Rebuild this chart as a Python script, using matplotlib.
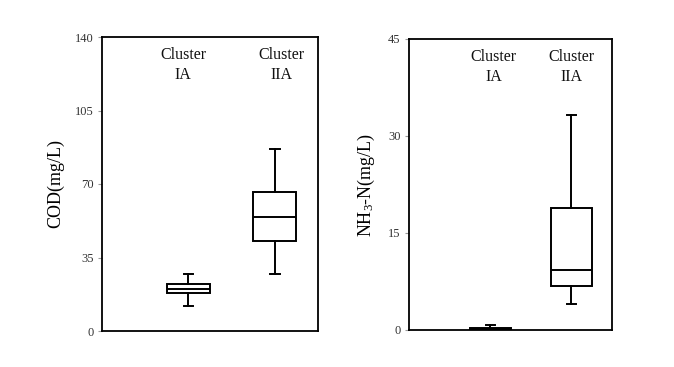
import matplotlib
matplotlib.use("Agg")
import matplotlib.pyplot as plt

plt.rcParams['font.family'] = ['Liberation Serif', 'DejaVu Serif']
plt.rcParams['mathtext.fontset'] = 'custom'
plt.rcParams['mathtext.rm'] = 'Liberation Serif'
plt.rcParams['mathtext.it'] = 'Liberation Serif:italic'

clusters = ["Cluster\nIA", "Cluster\nIIA"]

# box stats: whislo, q1, med, q3, whishi
cod_ia = [11.9, 18.2, 19.8, 22.2, 27.1]
cod_iia = [27.1, 42.9, 54.3, 66.0, 86.7]
nh3_ia = [0.0, 0.05, 0.2, 0.35, 0.77]
nh3_iia = [3.97, 6.85, 9.3, 18.9, 33.2]

cod_ticks = [0, 35, 70, 105, 140]
nh3_ticks = [0, 15, 30, 45]

def stats(vals, label):
    lo, q1, med, q3, hi = vals
    return dict(whislo=lo, q1=q1, med=med, q3=q3, whishi=hi, fliers=[], label=label)

fig = plt.figure(figsize=(6.74, 3.67), dpi=100)
ax1 = fig.add_axes([102/674, 1-331/367, 216/674, 294/367])
ax2 = fig.add_axes([409/674, 1-330/367, 203/674, 291/367])

lw = 1.4
props = dict(
    boxprops=dict(edgecolor='black', linewidth=lw, facecolor='white'),
    medianprops=dict(color='black', linewidth=lw),
    whiskerprops=dict(color='black', linewidth=lw),
    capprops=dict(color='black', linewidth=lw),
)

label_offsets = {0: [-0.06, 0.08], 1: [0.04, 0.0]}

for k, (ax, data, ticks, ylabel) in enumerate([
    (ax1, [cod_ia, cod_iia], cod_ticks, "COD(mg/L)"),
    (ax2, [nh3_ia, nh3_iia], nh3_ticks, "NH$_3$-N(mg/L)"),
]):
    bx = [stats(d, c) for d, c in zip(data, clusters)]
    ax.bxp(bx, positions=[1, 2], widths=0.5, capwidths=0.11, patch_artist=True,
           showfliers=False, **props)
    ax.set_xlim(0, 2.5)
    ax.set_ylim(ticks[0], ticks[-1])
    ax.set_yticks(ticks)
    ax.set_yticklabels([str(t) for t in ticks], fontsize=9, color='#333333')
    ax.tick_params(axis='y', length=3, width=0.8, color='#999999', pad=3)
    ax.set_xticks([])
    for i, c in enumerate(clusters):
        ax.text(i + 1 + label_offsets[k][i], ticks[-1] * 0.965, c, ha='center',
                va='top', fontsize=11.5, linespacing=1.3, color='#111111')
    for s in ax.spines.values():
        s.set_linewidth(1.3)
        s.set_color('black')
    ax.set_ylabel(ylabel, fontsize=13, labelpad=8)

fig.savefig("out.png", dpi=100)
